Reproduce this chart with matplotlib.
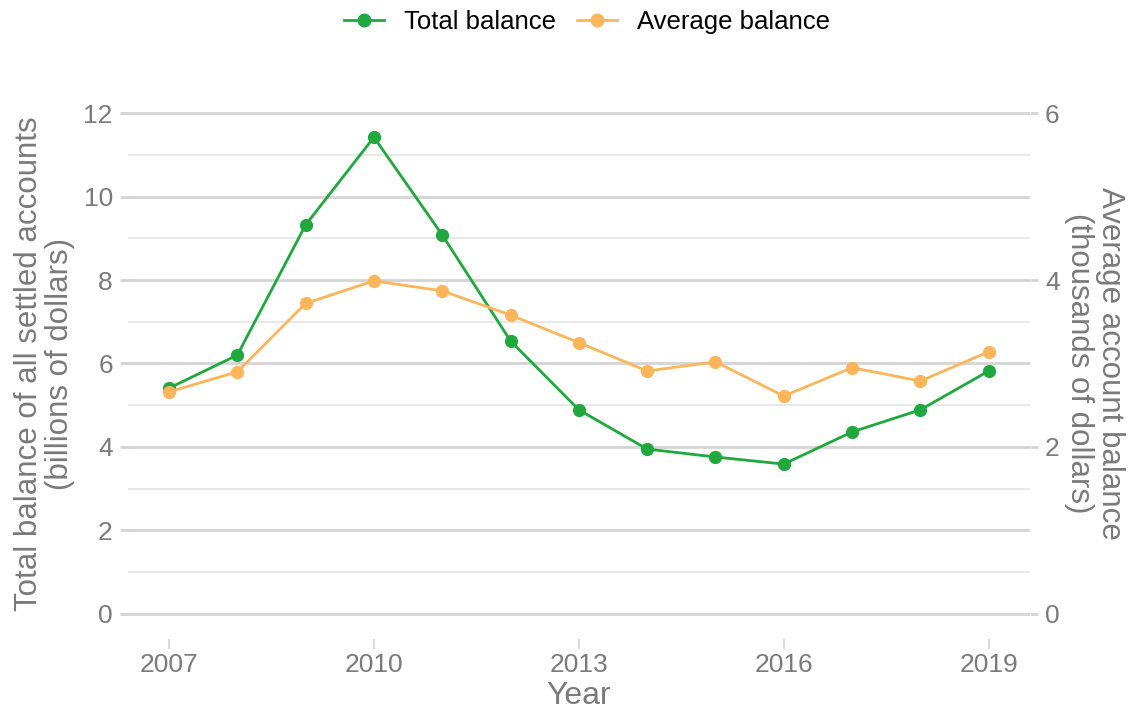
import matplotlib
matplotlib.use("Agg")
import matplotlib.pyplot as plt
from matplotlib.lines import Line2D

plt.rcParams['font.family'] = ['Liberation Sans', 'DejaVu Sans']

years = [2007, 2008, 2009, 2010, 2011, 2012, 2013, 2014, 2015, 2016, 2017, 2018, 2019]
total_balance = [5.41, 6.20, 9.32, 11.42, 9.08, 6.54, 4.89, 3.95, 3.76, 3.59, 4.36, 4.89, 5.82]
average_balance = [2.66, 2.90, 3.72, 3.99, 3.87, 3.58, 3.25, 2.91, 3.02, 2.61, 2.95, 2.79, 3.14]
x_ticks = [2007, 2010, 2013, 2016, 2019]
left_ticks = [0, 2, 4, 6, 8, 10, 12]
left_minor = [1, 3, 5, 7, 9, 11]
right_ticks = [0, 2, 4, 6]

green = "#1fa83d"
orange = "#fdb55c"
grey_text = "#7a7a7a"
grid_major = "#d4d4d4"
grid_minor = "#e4e4e4"

fig = plt.figure(figsize=(11.29, 7.13), dpi=100)
ax = fig.add_axes([0.1134, 0.1038, 0.7986, 0.7728])
ax2 = ax.twinx()

ax.set_xlim(2006.4, 2019.6)
ax.set_ylim(-0.6, 12.6)
ax2.set_ylim(-0.3, 6.3)

for v in left_ticks:
    ax.axhline(v, color=grid_major, lw=2.0, zorder=0)
for v in left_minor:
    ax.axhline(v, color=grid_minor, lw=1.2, zorder=0)

ax.plot(years, total_balance, color=green, lw=2, marker='o', ms=8.5, zorder=3)
ax2.plot(years, average_balance, color=orange, lw=2, marker='o', ms=8.5, zorder=3)

for a in (ax, ax2):
    for s in a.spines.values():
        s.set_visible(False)
    a.patch.set_visible(False)

ax.set_xticks(x_ticks)
ax.set_xticklabels([str(t) for t in x_ticks])
ax.set_yticks(left_ticks)
ax.set_yticklabels([str(t) for t in left_ticks])
ax2.set_yticks(right_ticks)
ax2.set_yticklabels([str(t) for t in right_ticks])

ax.tick_params(axis='x', colors=grid_major, labelcolor=grey_text, labelsize=19, length=7, width=1.2, pad=3)
ax.tick_params(axis='y', colors=grid_major, labelcolor=grey_text, labelsize=19, length=6, width=2, pad=5)
ax2.tick_params(axis='y', colors=grid_major, labelcolor=grey_text, labelsize=19, length=6, width=2, pad=5)

ax.set_xlabel("Year", fontsize=23, color=grey_text, labelpad=3)
ax.set_ylabel("Total balance of all settled accounts\n(billions of dollars)", fontsize=22.5,
              color=grey_text, labelpad=6, linespacing=1.05)
ax2.set_ylabel("Average account balance\n(thousands of dollars)", fontsize=22.5,
               color=grey_text, rotation=-90, labelpad=47, linespacing=1.05)

handles = [
    Line2D([], [], color=green, lw=2, marker='o', ms=9),
    Line2D([], [], color=orange, lw=2, marker='o', ms=9),
]
fig.legend(handles, ["Total balance", "Average balance"], loc='upper center',
           bbox_to_anchor=(0.52, 1.018), ncol=2, frameon=False, fontsize=18.5,
           handlelength=1.55, columnspacing=0.8, handletextpad=0.8)

fig.savefig("out.png", dpi=100)
